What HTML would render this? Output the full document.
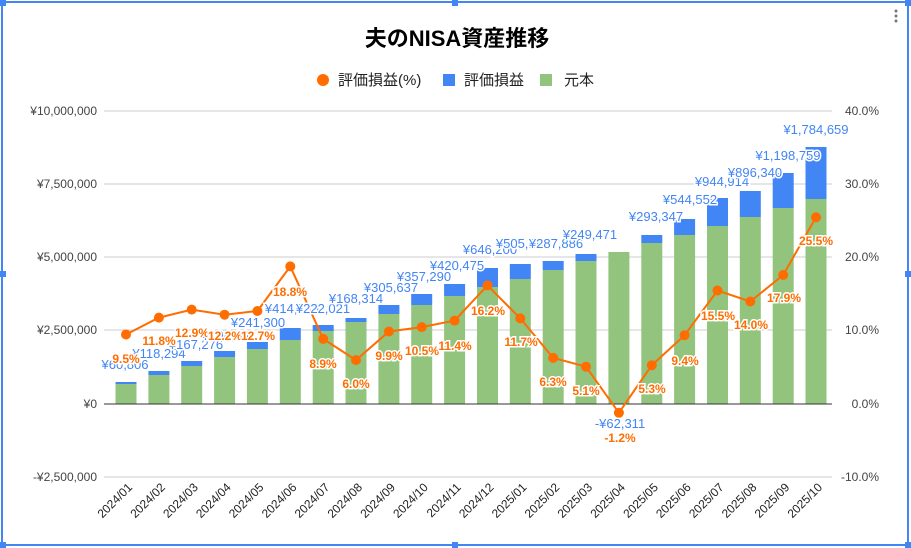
<!DOCTYPE html>
<html><head><meta charset="utf-8"><style>
html,body{margin:0;padding:0;background:#fff;}
svg{display:block;font-family:"Liberation Sans","Noto Sans CJK JP",sans-serif;}
.ax{font-size:12px;fill:#444;}
.bl{font-size:13px;fill:#4285f4;text-anchor:middle;stroke:#fff;stroke-width:3px;paint-order:stroke;}
.or{font-size:12px;font-weight:bold;fill:#ff6d01;text-anchor:middle;stroke:#fff;stroke-width:3px;paint-order:stroke;}
.xl{font-size:12px;fill:#222;text-anchor:end;}
</style></head><body>
<svg width="911" height="548" viewBox="0 0 911 548">
<rect x="0" y="0" width="911" height="548" fill="#fff"/>
<text x="457" y="46" font-size="22" font-weight="bold" text-anchor="middle" fill="#000">夫のNISA資産推移</text>
<circle cx="323" cy="80" r="6" fill="#ff6d01"/>
<text x="338" y="85" font-size="15" fill="#222">評価損益(%)</text>
<rect x="443" y="74" width="12" height="12" fill="#4285f4"/>
<text x="464" y="85" font-size="15" fill="#222">評価損益</text>
<rect x="540" y="74" width="12" height="12" fill="#93c47d"/>
<text x="564" y="85" font-size="15" fill="#222">元本</text>
<g stroke="#ccc" stroke-width="1">
<line x1="104" y1="111" x2="832" y2="111"/><line x1="104" y1="184" x2="832" y2="184"/>
<line x1="104" y1="257" x2="832" y2="257"/><line x1="104" y1="330" x2="832" y2="330"/>
<line x1="104" y1="477" x2="832" y2="477"/>
</g>
<g class="ax" text-anchor="end">
<text x="97" y="115">¥10,000,000</text><text x="97" y="188">¥7,500,000</text>
<text x="97" y="261">¥5,000,000</text><text x="97" y="334">¥2,500,000</text>
<text x="97" y="408">¥0</text><text x="97" y="481">-¥2,500,000</text>
</g>
<g class="ax" text-anchor="end">
<text x="879" y="115">40.0%</text><text x="879" y="188">30.0%</text>
<text x="879" y="261">20.0%</text><text x="879" y="334">10.0%</text>
<text x="879" y="408">0.0%</text><text x="879" y="481">-10.0%</text>
</g>
<g fill="#93c47d">
<rect x="115.5" y="384" width="21" height="20"/><rect x="148.4" y="375" width="21" height="29"/>
<rect x="181.2" y="366" width="21" height="38"/><rect x="214.1" y="357" width="21" height="47"/>
<rect x="246.9" y="349" width="21" height="55"/><rect x="279.8" y="340" width="21" height="64"/>
<rect x="312.7" y="331" width="21" height="73"/><rect x="345.5" y="322" width="21" height="82"/>
<rect x="378.4" y="314" width="21" height="90"/><rect x="411.2" y="305" width="21" height="99"/>
<rect x="444.1" y="296" width="21" height="108"/><rect x="477" y="287" width="21" height="117"/>
<rect x="509.8" y="279" width="21" height="125"/><rect x="542.7" y="270" width="21" height="134"/>
<rect x="575.5" y="261" width="21" height="143"/><rect x="608.4" y="252" width="21" height="152"/>
<rect x="641.3" y="243" width="21" height="161"/><rect x="674.1" y="235" width="21" height="169"/>
<rect x="707" y="226" width="21" height="178"/><rect x="739.8" y="217" width="21" height="187"/>
<rect x="772.7" y="208" width="21" height="196"/><rect x="805.5" y="199" width="21" height="205"/>
</g>
<g fill="#4285f4">
<rect x="115.5" y="382" width="21" height="2"/><rect x="148.4" y="371" width="21" height="4"/>
<rect x="181.2" y="361" width="21" height="5"/><rect x="214.1" y="351" width="21" height="6"/>
<rect x="246.9" y="342" width="21" height="7"/><rect x="279.8" y="328" width="21" height="12"/>
<rect x="312.7" y="325" width="21" height="6"/><rect x="345.5" y="318" width="21" height="4"/>
<rect x="378.4" y="305" width="21" height="9"/><rect x="411.2" y="294" width="21" height="11"/>
<rect x="444.1" y="284" width="21" height="12"/><rect x="477" y="268" width="21" height="19"/>
<rect x="509.8" y="264" width="21" height="15"/><rect x="542.7" y="261" width="21" height="9"/>
<rect x="575.5" y="254" width="21" height="7"/>
<rect x="641.3" y="235" width="21" height="8"/><rect x="674.1" y="219" width="21" height="16"/>
<rect x="707" y="198" width="21" height="28"/><rect x="739.8" y="191" width="21" height="26"/>
<rect x="772.7" y="173" width="21" height="35"/><rect x="805.5" y="147" width="21" height="52"/>
</g>
<line x1="104" y1="404" x2="832" y2="404" stroke="#333" stroke-width="1"/>
<polyline fill="none" stroke="#ff6d01" stroke-width="2" points="126,334.5 158.9,317.6 191.7,309.6 224.6,314.7 257.4,311 290.3,266.4 323.2,338.9 356,360.1 388.9,331.5 421.7,327.1 454.6,320.6 487.5,285.4 520.3,318.4 553.2,357.9 586,366.7 618.9,412.8 651.8,365.2 684.6,335.2 717.5,290.5 750.3,301.5 783.2,275 816,217.3"/>
<g fill="#ff6d01">
<circle cx="126" cy="334.5" r="5"/><circle cx="158.9" cy="317.6" r="5"/><circle cx="191.7" cy="309.6" r="5"/>
<circle cx="224.6" cy="314.7" r="5"/><circle cx="257.4" cy="311" r="5"/><circle cx="290.3" cy="266.4" r="5"/>
<circle cx="323.2" cy="338.9" r="5"/><circle cx="356" cy="360.1" r="5"/><circle cx="388.9" cy="331.5" r="5"/>
<circle cx="421.7" cy="327.1" r="5"/><circle cx="454.6" cy="320.6" r="5"/><circle cx="487.5" cy="285.4" r="5"/>
<circle cx="520.3" cy="318.4" r="5"/><circle cx="553.2" cy="357.9" r="5"/><circle cx="586" cy="366.7" r="5"/>
<circle cx="618.9" cy="412.8" r="5"/><circle cx="651.8" cy="365.2" r="5"/><circle cx="684.6" cy="335.2" r="5"/>
<circle cx="717.5" cy="290.5" r="5"/><circle cx="750.3" cy="301.5" r="5"/><circle cx="783.2" cy="275" r="5"/>
<circle cx="816" cy="217.3" r="5"/>
</g>
<g>
<text class="bl" x="125" y="369">¥60,806</text><text class="bl" x="159" y="358">¥118,294</text>
<text class="bl" x="196" y="349">¥167,276</text><text class="bl" x="229" y="340">¥194,661</text>
<text class="bl" x="258" y="327">¥241,300</text><text class="bl" x="292" y="313">¥414,575</text>
<text class="bl" x="323" y="313">¥222,021</text><text class="bl" x="356" y="303">¥168,314</text>
<text class="bl" x="391" y="292">¥305,637</text><text class="bl" x="424" y="281">¥357,290</text>
<text class="bl" x="457" y="270">¥420,475</text><text class="bl" x="490" y="254">¥646,200</text>
<text class="bl" x="523" y="248">¥505,145</text><text class="bl" x="556" y="248">¥287,886</text>
<text class="bl" x="590" y="239">¥249,471</text><text class="bl" x="620" y="428">-¥62,311</text>
<text class="bl" x="656" y="221">¥293,347</text><text class="bl" x="690" y="204">¥544,552</text>
<text class="bl" x="722" y="186">¥944,914</text><text class="bl" x="755" y="177">¥896,340</text>
<text class="bl" x="788" y="160">¥1,198,759</text><text class="bl" x="816" y="134">¥1,784,659</text>
</g>
<g>
<text class="or" x="126" y="363">9.5%</text><text class="or" x="159" y="345">11.8%</text>
<text class="or" x="192" y="337">12.9%</text><text class="or" x="225" y="340">12.2%</text>
<text class="or" x="258" y="340">12.7%</text><text class="or" x="290" y="296">18.8%</text>
<text class="or" x="323" y="368">8.9%</text><text class="or" x="356" y="388">6.0%</text>
<text class="or" x="389" y="360">9.9%</text><text class="or" x="422" y="355">10.5%</text>
<text class="or" x="455" y="350">11.4%</text><text class="or" x="488" y="315">16.2%</text>
<text class="or" x="521" y="346">11.7%</text><text class="or" x="553" y="386">6.3%</text>
<text class="or" x="586" y="395">5.1%</text><text class="or" x="620" y="442">-1.2%</text>
<text class="or" x="652" y="393">5.3%</text><text class="or" x="685" y="365">9.4%</text>
<text class="or" x="718" y="320">15.5%</text><text class="or" x="751" y="329">14.0%</text>
<text class="or" x="784" y="302">17.9%</text><text class="or" x="816" y="245">25.5%</text>
</g>
<g class="xl">
<text transform="translate(133,488) rotate(-45)">2024/01</text>
<text transform="translate(165.9,488) rotate(-45)">2024/02</text>
<text transform="translate(198.7,488) rotate(-45)">2024/03</text>
<text transform="translate(231.6,488) rotate(-45)">2024/04</text>
<text transform="translate(264.4,488) rotate(-45)">2024/05</text>
<text transform="translate(297.3,488) rotate(-45)">2024/06</text>
<text transform="translate(330.2,488) rotate(-45)">2024/07</text>
<text transform="translate(363,488) rotate(-45)">2024/08</text>
<text transform="translate(395.9,488) rotate(-45)">2024/09</text>
<text transform="translate(428.7,488) rotate(-45)">2024/10</text>
<text transform="translate(461.6,488) rotate(-45)">2024/11</text>
<text transform="translate(494.5,488) rotate(-45)">2024/12</text>
<text transform="translate(527.3,488) rotate(-45)">2025/01</text>
<text transform="translate(560.2,488) rotate(-45)">2025/02</text>
<text transform="translate(593,488) rotate(-45)">2025/03</text>
<text transform="translate(625.9,488) rotate(-45)">2025/04</text>
<text transform="translate(658.8,488) rotate(-45)">2025/05</text>
<text transform="translate(691.6,488) rotate(-45)">2025/06</text>
<text transform="translate(724.5,488) rotate(-45)">2025/07</text>
<text transform="translate(757.3,488) rotate(-45)">2025/08</text>
<text transform="translate(790.2,488) rotate(-45)">2025/09</text>
<text transform="translate(823,488) rotate(-45)">2025/10</text>
</g>
<rect x="2" y="2" width="906" height="543" fill="none" stroke="#4285f4" stroke-width="2"/>
<g fill="#4285f4">
<rect x="0" y="0" width="6" height="6"/><rect x="452" y="0" width="6" height="6"/><rect x="905" y="0" width="6" height="6"/>
<rect x="0" y="271" width="6" height="6"/><rect x="905" y="271" width="6" height="6"/>
<rect x="0" y="542" width="6" height="6"/><rect x="452" y="542" width="6" height="6"/><rect x="905" y="542" width="6" height="6"/>
</g>
<g fill="#777"><circle cx="896" cy="11" r="1.5"/><circle cx="896" cy="16" r="1.5"/><circle cx="896" cy="21" r="1.5"/></g>
</svg>
</body></html>
